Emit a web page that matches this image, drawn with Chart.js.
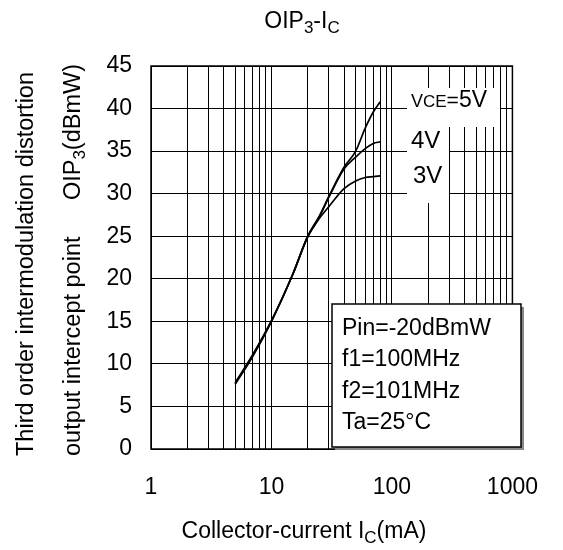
<!DOCTYPE html>
<html>
<head>
<meta charset="utf-8">
<script src="https://cdn.jsdelivr.net/npm/chart.js@4/dist/chart.umd.min.js"></script>
<style>
  body { margin: 0; background: #fff; }
</style>
</head>
<body>
<canvas id="oip3" width="563" height="550"></canvas>
<script>
// collector current (mA) and OIP3 (dBmW)
const currents = [5, 7, 10, 15, 20, 25, 30, 40, 50, 60, 70, 80];
const oip5v = [7.7, 11.0, 15.0, 20.5, 25.0, 27.4, 29.7, 33.1, 35.0, 37.7, 39.6, 40.8];
const oip4v = [7.6, 10.9, 15.0, 20.5, 25.0, 27.3, 29.6, 32.9, 34.3, 35.3, 35.9, 36.1];
const oip3v = [7.8, 11.1, 15.1, 20.5, 24.9, 27.1, 28.5, 30.6, 31.5, 31.9, 32.0, 32.1];

const xGrid = [1, 2, 3, 4, 5, 6, 7, 8, 9, 10, 20, 30, 40, 50, 60, 70, 80, 90,
               100, 200, 300, 400, 500, 600, 700, 800, 900, 1000];
const xLabels = [1, 10, 100, 1000];
const yTicks = [0, 5, 10, 15, 20, 25, 30, 35, 40, 45];
const curveLabels = ['5V', '4V', '3V'];
const conditions = ['Pin=-20dBmW', 'f1=100MHz', 'f2=101MHz', 'Ta=25°C'];

const FONT = '"Liberation Sans", Arial, sans-serif';

function toPoints(ys) {
    return currents.map((c, i) => ({ x: c, y: ys[i] }));
}

// draws a run of [text, size, dy] pieces starting at x
function drawRun(ctx, pieces, x, y) {
    pieces.forEach(([t, size, dy]) => {
        ctx.font = size + 'px ' + FONT;
        ctx.fillText(t, x, y + dy);
        x += ctx.measureText(t).width;
    });
    return x;
}
function runWidth(ctx, pieces) {
    let w = 0;
    pieces.forEach(([t, size]) => {
        ctx.font = size + 'px ' + FONT;
        w += ctx.measureText(t).width;
    });
    return w;
}

const annotations = {
    id: 'annotations',
    afterDraw(chart) {
        const ctx = chart.ctx;
        const a = chart.chartArea;
        ctx.save();
        ctx.fillStyle = '#000';
        ctx.textBaseline = 'alphabetic';
        ctx.textAlign = 'left';

        // frame
        ctx.strokeStyle = '#000';
        ctx.lineWidth = 1.5;
        ctx.strokeRect(a.left, a.top, a.right - a.left, a.bottom - a.top);

        // title
        const title = [['OIP', 23, 0], ['3', 17, 5], ['-I', 23, 0], ['C', 17, 5]];
        drawRun(ctx, title, 302 - runWidth(ctx, title) / 2, 28);

        // x axis title
        const xt = [['Collector-current I', 23, 0], ['C', 17, 5], ['(mA)', 23, 0]];
        drawRun(ctx, xt, 304 - runWidth(ctx, xt) / 2, 538);

        // y axis title, two rotated lines
        ctx.save();
        ctx.translate(33, 0);
        ctx.rotate(-Math.PI / 2);
        const y1 = [['Third order intermodulation distortion', 23.5, 0]];
        drawRun(ctx, y1, -264 - runWidth(ctx, y1) / 2, 0);
        ctx.restore();

        ctx.save();
        ctx.translate(80, 0);
        ctx.rotate(-Math.PI / 2);
        drawRun(ctx, [['output intercept point', 23.5, 0]], -456, 0);
        const y2 = [['OIP', 23.5, 0], ['3', 17, 5], ['(dBmW)', 23.5, 0]];
        drawRun(ctx, y2, -64 - runWidth(ctx, y2), 0);
        ctx.restore();

        // curve labels on white patches
        ctx.fillStyle = '#fff';
        ctx.fillRect(407, 88, 93, 39);
        ctx.fillRect(407, 126, 42, 77);
        ctx.fillStyle = '#000';
        drawRun(ctx, [['V', 18, 0], ['CE', 17, 0], ['=', 21, 0], [curveLabels[0], 23, 0]], 411, 107);
        drawRun(ctx, [[curveLabels[1], 24, 0]], 411, 148);
        drawRun(ctx, [[curveLabels[2], 24, 0]], 413, 183);

        // measurement conditions box
        ctx.fillStyle = '#888';
        ctx.fillRect(335, 307, 189, 143);
        ctx.fillStyle = '#fff';
        ctx.fillRect(332, 304, 189, 143);
        ctx.strokeStyle = '#000';
        ctx.lineWidth = 1.5;
        ctx.strokeRect(332, 304, 189, 143);
        ctx.fillStyle = '#000';
        conditions.forEach((t, i) => {
            drawRun(ctx, [[t, 23, 0]], 342, 335 + i * 31.3);
        });
        ctx.restore();
    }
};

const line = (data) => ({
    data: toPoints(data),
    borderColor: '#000',
    borderWidth: 1.7,
    pointRadius: 0,
    fill: false,
    cubicInterpolationMode: 'monotone'
});

new Chart(document.getElementById('oip3'), {
    type: 'line',
    data: {
        datasets: [line(oip5v), line(oip4v), line(oip3v)]
    },
    options: {
        responsive: false,
        animation: false,
        layout: { padding: { left: 0, top: 66, right: 41, bottom: 0 } },
        plugins: {
            legend: { display: false },
            tooltip: { enabled: false }
        },
        scales: {
            x: {
                type: 'logarithmic',
                min: 1,
                max: 1000,
                afterBuildTicks: (scale) => { scale.ticks = xGrid.map(v => ({ value: v })); },
                afterFit: (scale) => { scale.height = 101; },
                grid: { color: '#000', lineWidth: 1, drawTicks: false },
                border: { display: false },
                ticks: {
                    autoSkip: false,
                    maxRotation: 0,
                    padding: 25,
                    color: '#000',
                    font: { family: FONT, size: 23 },
                    callback: (v) => xLabels.includes(v) ? String(v) : ''
                }
            },
            y: {
                min: 0,
                max: 45,
                afterBuildTicks: (scale) => { scale.ticks = yTicks.map(v => ({ value: v })); },
                afterFit: (scale) => { scale.width = 151; },
                grid: { color: '#000', lineWidth: 1, drawTicks: false },
                border: { display: false },
                ticks: {
                    padding: 19,
                    color: '#000',
                    font: { family: FONT, size: 23 }
                }
            }
        }
    },
    plugins: [annotations]
});
</script>
</body>
</html>
